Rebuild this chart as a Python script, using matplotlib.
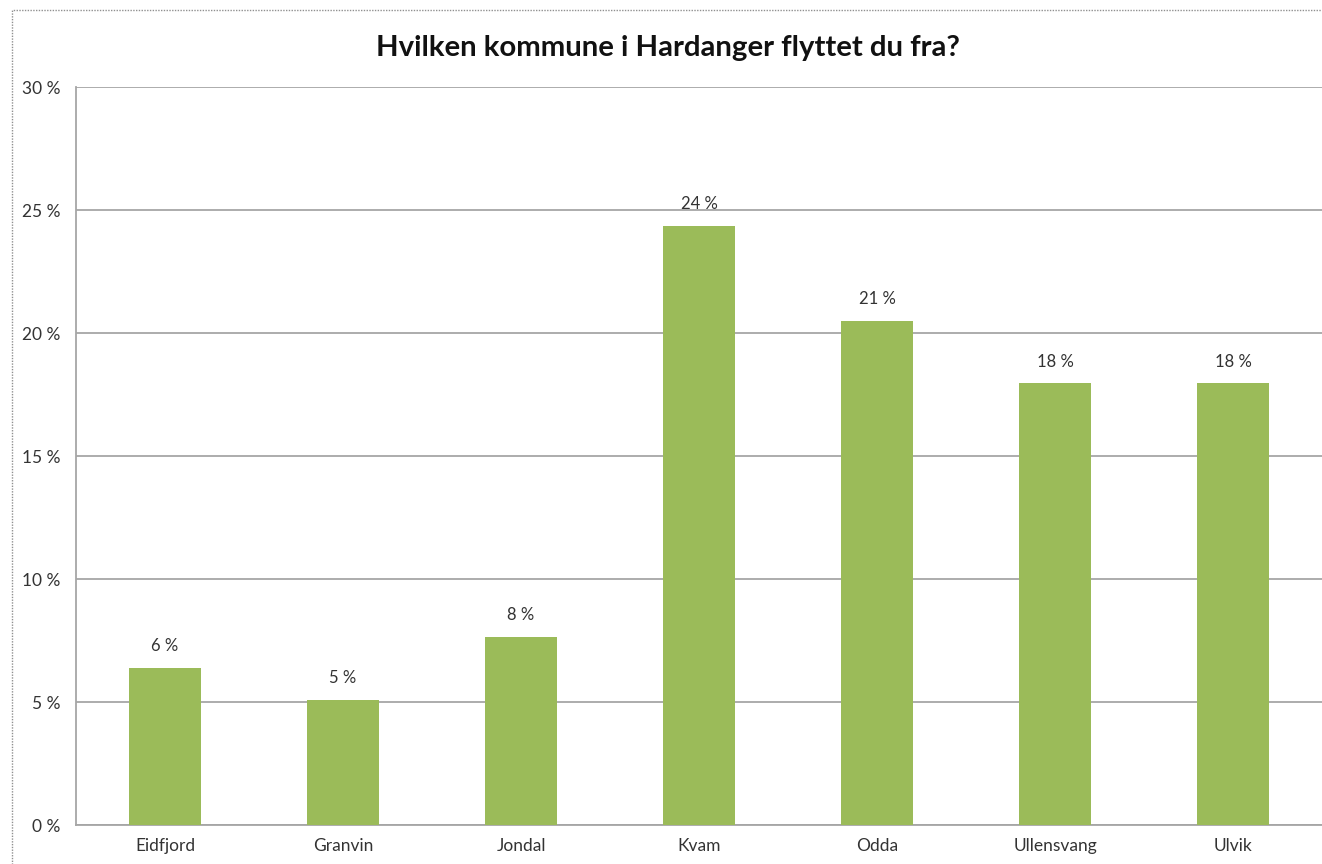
import matplotlib.pyplot as plt
from matplotlib.patches import Rectangle
from matplotlib.ticker import FuncFormatter

kommuner = ["Eidfjord", "Granvin", "Jondal", "Kvam", "Odda", "Ullensvang", "Ulvik"]
andel = [6.4, 5.1, 7.65, 24.35, 20.5, 17.95, 17.95]
etiketter = ["6 %", "5 %", "8 %", "24 %", "21 %", "18 %", "18 %"]

plt.rcParams["font.family"] = ["Lato", "DejaVu Sans"]

fig = plt.figure(figsize=(13.22, 8.64), dpi=100)
ax = fig.add_axes([0.0575, 0.0451, 0.9425, 0.8542])

# ramme rundt hele figuren
fig.patches.append(Rectangle((12 / 1322, -0.05), 1.1, (864 - 10) / 864 + 0.05,
                             transform=fig.transFigure, fill=False,
                             edgecolor="#909090", linestyle=(0, (1, 1)), linewidth=1))

x = range(len(kommuner))
ax.bar(x, andel, width=0.4, color="#9bbb59", zorder=3)

for i, (v, t) in enumerate(zip(andel, etiketter)):
    ax.text(i, v + 0.55, t, ha="center", va="bottom", fontsize=12, color="#333333")

ax.set_xlim(-0.5, len(kommuner) - 0.5)
ax.set_ylim(0, 30)
ax.set_yticks(range(0, 31, 5))
ax.yaxis.set_major_formatter(FuncFormatter(lambda v, p: f"{int(v)} %"))
ax.set_xticks(list(x))
ax.set_xticklabels(kommuner)
ax.tick_params(length=0, labelsize=12.5, labelcolor="#333333")
ax.tick_params(axis="y", pad=11)
ax.tick_params(axis="x", pad=9)

ax.grid(axis="y", color="#a6a6a6", linewidth=1.3, zorder=0)
for s in ["top", "right"]:
    ax.spines[s].set_visible(False)
for s in ["left", "bottom"]:
    ax.spines[s].set_color("#a6a6a6")
    ax.spines[s].set_linewidth(1.3)

fig.text(0.505, 0.945, "Hvilken kommune i Hardanger flyttet du fra?",
         ha="center", va="center", fontsize=21.2, fontweight="bold", color="#111111")

fig.savefig("out.png", dpi=100)
